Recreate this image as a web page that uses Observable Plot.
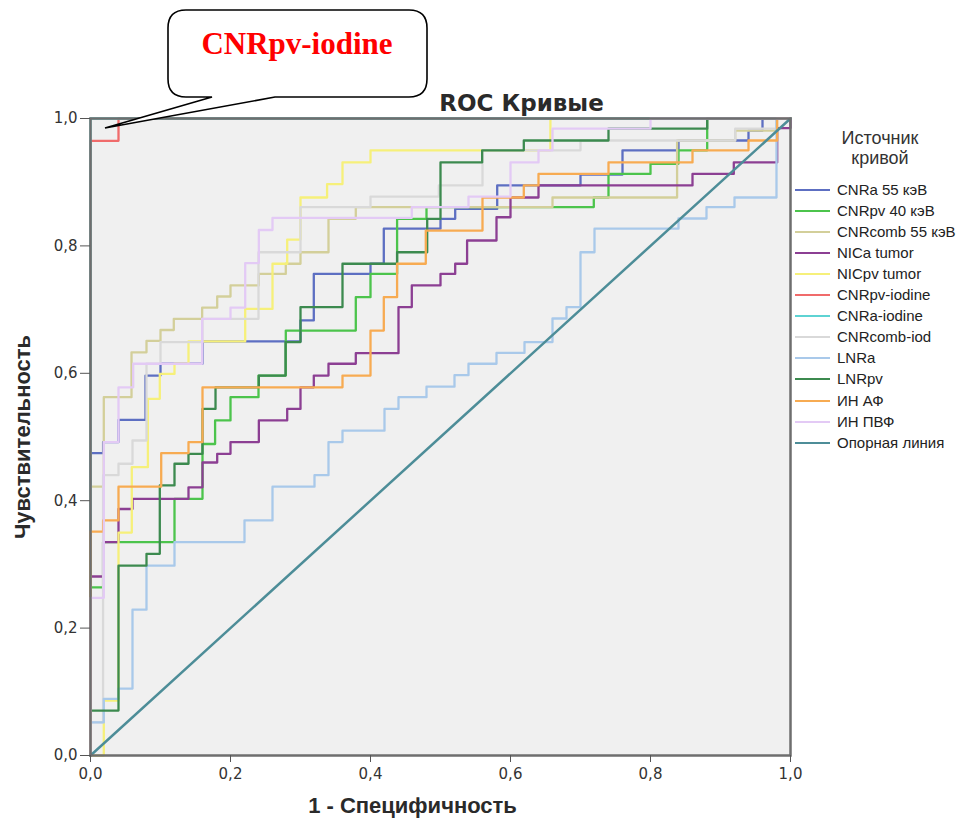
<!DOCTYPE html>
<html>
<head>
<meta charset="utf-8">
<script src="https://cdn.jsdelivr.net/npm/d3@7"></script>
<script src="https://cdn.jsdelivr.net/npm/@observablehq/plot@0.6"></script>
<style>
  body { margin: 0; background: #fff; }
  #wrap { position: relative; width: 968px; height: 825px; font-family: "Liberation Sans", Arial, sans-serif; }
  #legend { position: absolute; left: 795px; top: 128px; width: 173px; color: #222; }
  #legend .ttl { text-align: center; font-size: 18px; line-height: 20px; width: 170px; color: #333; }
  #legend .item { position: absolute; left: 0; height: 20px; font-size: 15px; white-space: nowrap; }
  #legend .sw { position: absolute; left: 0; top: 9px; width: 35px; height: 0; border-top: 2.5px solid; }
  #legend .lb { position: absolute; left: 42px; top: 0; line-height: 20px; }
  #callout { position: absolute; left: 0; top: 0; pointer-events: none; }
</style>
</head>
<body>
<div id="wrap">
  <div id="plot"></div>
  <div id="legend"></div>
  <svg id="callout" width="968" height="140"></svg>
</div>
<script>
// ---- data: ROC step vertices [1 - specificity, sensitivity] ----
const seriesNames = ["CNRa 55 кэВ","CNRpv 40 кэВ","CNRcomb 55 кэВ","NICa tumor","NICpv tumor","CNRpv-iodine","CNRa-iodine","CNRcomb-iod","LNRa","LNRpv","ИН АФ","ИН ПВФ"];
const seriesColors = ["#5d6fc2","#4cc44c","#d3cf9a","#8c3f93","#f6f07a","#f06b6b","#5ed3d3","#d9d9d9","#a9c9ea","#3c8a4f","#f7ab52","#e3caf5"];
const refName = "Опорная линия";
const refColor = "#4d8d98";
const tickValues = [0, 0.2, 0.4, 0.6, 0.8, 1.0];

const cnra55 = [[0,0],[0,0.4746],[0.018,0.492],[0.04,0.527],[0.0786,0.5965],[0.10,0.615],[0.16,0.65],[0.30,0.683],[0.319,0.756],[0.40,0.772],[0.419,0.827],[0.50,0.8425],[0.521,0.858],[0.581,0.895],[0.70,0.912],[0.76,0.95],[0.84,0.9655],[0.94,0.981],[0.96,1],[1,1]];
const cnrpv40 = [[0,0],[0,0.264],[0.018,0.335],[0.12,0.403],[0.16,0.489],[0.178,0.526],[0.20,0.5625],[0.24,0.5965],[0.279,0.667],[0.379,0.7195],[0.40,0.756],[0.438,0.8425],[0.48,0.861],[0.719,0.876],[0.74,0.913],[0.80,0.929],[0.84,0.95],[0.881,1],[1,1]];
const cnrcomb55 = [[0,0],[0,0.422],[0.019,0.5625],[0.0586,0.633],[0.08,0.651],[0.10,0.668],[0.119,0.6855],[0.1595,0.703],[0.181,0.7206],[0.20,0.738],[0.2405,0.756],[0.279,0.772],[0.30,0.79],[0.34,0.8425],[0.379,0.861],[0.66,0.876],[0.838,0.9655],[0.921,0.981],[0.98,1],[1,1]];
const nicaTumor = [[0,0],[0,0.281],[0.018,0.335],[0.04,0.387],[0.06,0.403],[0.14,0.421],[0.16,0.46],[0.181,0.4736],[0.20,0.492],[0.2405,0.526],[0.281,0.544],[0.30,0.578],[0.319,0.5965],[0.34,0.615],[0.379,0.6316],[0.44,0.704],[0.459,0.738],[0.50,0.756],[0.521,0.772],[0.538,0.8085],[0.58,0.845],[0.60,0.876],[0.64,0.895],[0.86,0.913],[0.919,0.931],[0.981,0.985],[1,1]];
const nicpvTumor = [[0,0],[0.019,0.086],[0.04,0.35],[0.059,0.4526],[0.082,0.56],[0.099,0.599],[0.12,0.615],[0.14,0.65],[0.221,0.701],[0.26,0.772],[0.281,0.81],[0.30,0.876],[0.338,0.897],[0.36,0.931],[0.40,0.95],[0.657,1],[1,1]];
const cnrpvIodine = [[0,0],[0,0.965],[0.04,1],[1,1]];
const cnraIodine = [[0,0],[0,1],[1,1]];
const cnrcombIod = [[0,0],[0,0.052],[0.018,0.44],[0.04,0.458],[0.06,0.4945],[0.08,0.615],[0.10,0.649],[0.16,0.6855],[0.24,0.79],[0.30,0.861],[0.40,0.8775],[0.4976,0.895],[0.56,0.95],[0.70,0.9655],[0.921,0.984],[0.98,1],[1,1]];
const lnra = [[0,0],[0,0.052],[0.019,0.089],[0.04,0.105],[0.06,0.229],[0.08,0.298],[0.12,0.335],[0.22,0.369],[0.26,0.422],[0.32,0.44],[0.34,0.492],[0.36,0.51],[0.42,0.544],[0.44,0.5625],[0.48,0.579],[0.52,0.597],[0.54,0.615],[0.58,0.632],[0.62,0.649],[0.66,0.686],[0.68,0.704],[0.70,0.79],[0.72,0.827],[0.84,0.843],[0.88,0.861],[0.92,0.876],[0.98,1],[1,1]];
const lnrpv = [[0,0],[0,0.0706],[0.04,0.298],[0.08,0.3166],[0.099,0.424],[0.12,0.458],[0.14,0.4736],[0.16,0.544],[0.1786,0.578],[0.2405,0.5965],[0.2786,0.649],[0.30,0.704],[0.36,0.772],[0.438,0.79],[0.481,0.8425],[0.50,0.931],[0.5595,0.95],[0.619,0.9655],[0.74,0.984],[0.881,1],[1,1]];
const inAf = [[0,0],[0,0.3516],[0.018,0.369],[0.04,0.422],[0.101,0.4746],[0.14,0.492],[0.16,0.578],[0.36,0.5965],[0.40,0.667],[0.419,0.7195],[0.438,0.772],[0.479,0.824],[0.56,0.876],[0.619,0.895],[0.64,0.913],[0.74,0.931],[0.86,0.95],[0.94,0.9655],[0.981,1],[1,1]];
const inPvf = [[0,0],[0,0.2475],[0.019,0.492],[0.04,0.578],[0.061,0.615],[0.1595,0.6855],[0.20,0.703],[0.221,0.773],[0.2405,0.825],[0.26,0.844],[0.459,0.861],[0.54,0.8775],[0.60,0.931],[0.64,0.95],[0.66,0.984],[0.80,1],[1,1]];
const refLine = [[0,0],[1,1]];

const seriesData = [cnra55, cnrpv40, cnrcomb55, nicaTumor, nicpvTumor, cnrpvIodine, cnraIodine, cnrcombIod, lnra, lnrpv, inAf, inPvf];

// ---- build table ----
const rows = [];
seriesData.forEach((pts, i) => pts.forEach(([x, y]) => rows.push({series: seriesNames[i], fpr: x, tpr: y})));
const refRows = refLine.map(([x, y]) => ({series: refName, fpr: x, tpr: y}));

const fmt = d => d.toFixed(1).replace(".", ",");
const FONT = "'Liberation Sans', Arial, sans-serif";
const WIDE = "'DejaVu Sans', Verdana, sans-serif";

const chart = Plot.plot({
  width: 968,
  height: 825,
  marginLeft: 90,
  marginRight: 178,
  marginTop: 118,
  marginBottom: 70,
  style: {fontFamily: FONT, background: "#fff", color: "#333"},
  x: {domain: [0, 1]},
  y: {domain: [0, 1]},
  color: {domain: seriesNames, range: seriesColors},
  marks: [
    Plot.frame({fill: "#f0f0f0"}),
    Plot.line(rows, {x: "fpr", y: "tpr", z: "series", stroke: "series", curve: "step-after", strokeWidth: 2.3}),
    Plot.line(refRows, {x: "fpr", y: "tpr", stroke: refColor, strokeWidth: 2.5}),
    Plot.frame({stroke: "#6e6e6e", strokeWidth: 2.5}),
    Plot.axisX({ticks: tickValues, tickFormat: fmt, tickSize: 7, tickPadding: 6, fontSize: 15, fontFamily: WIDE, label: null, stroke: "#555"}),
    Plot.axisY({ticks: tickValues, tickFormat: fmt, tickSize: 10, tickPadding: 3, fontSize: 15, fontFamily: WIDE, label: null, stroke: "#555"}),
    Plot.text(["ROC Кривые"], {frameAnchor: "top", dx: 81, dy: -24, fontSize: 23, fontFamily: WIDE, fontWeight: "bold", fill: "#2a2a2a"}),
    Plot.text(["1 - Специфичность"], {frameAnchor: "bottom", dx: -28, dy: 57, fontSize: 22, fontWeight: "bold", fill: "#2a2a2a"}),
    Plot.text(["Чувствительность"], {frameAnchor: "left", rotate: -90, textAnchor: "middle", dx: -68, fontSize: 22, fontWeight: "bold", fill: "#2a2a2a"})
  ]
});
document.getElementById("plot").appendChild(chart);

// ---- legend ----
const legend = document.getElementById("legend");
const ttl = document.createElement("div");
ttl.className = "ttl";
ttl.innerHTML = "Источник<br>кривой";
legend.appendChild(ttl);
const legNames = seriesNames.concat([refName]);
const legColors = seriesColors.concat([refColor]);
legNames.forEach((n, i) => {
  const it = document.createElement("div");
  it.className = "item";
  it.style.top = (52 + i * 21.05) + "px";
  const sw = document.createElement("span");
  sw.className = "sw";
  sw.style.borderTopColor = legColors[i];
  const lb = document.createElement("span");
  lb.className = "lb";
  lb.textContent = n;
  it.appendChild(sw); it.appendChild(lb);
  legend.appendChild(it);
});

// ---- callout ----
const co = d3.select("#callout");
co.append("path")
  .attr("d", "M186,10 H409 Q427,10 427,28 V79 Q427,97 409,97 H275 L105,128 L212,97 H186 Q168,97 168,79 V28 Q168,10 186,10 Z")
  .attr("fill", "#fff").attr("stroke", "#000").attr("stroke-width", 1.6);
co.append("text")
  .attr("x", 297).attr("y", 54).attr("text-anchor", "middle")
  .attr("font-family", "'Liberation Serif', 'Times New Roman', serif")
  .attr("font-weight", "bold").attr("font-size", 31).attr("fill", "#ff0000")
  .text("CNRpv-iodine");
</script>
</body>
</html>
